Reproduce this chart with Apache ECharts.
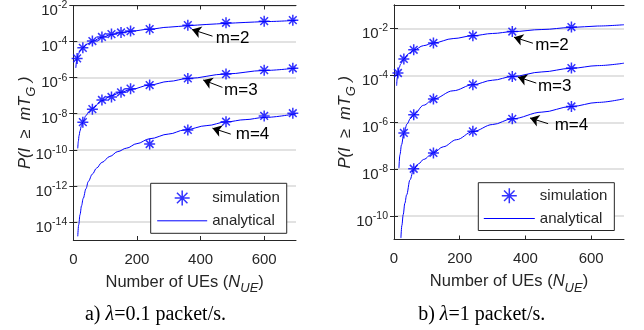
<!DOCTYPE html>
<html><head><meta charset="utf-8">
<script src="https://cdn.jsdelivr.net/npm/echarts@6/dist/echarts.min.js"></script>
<style>html,body{margin:0;padding:0;background:#fff}#c{width:644px;height:330px}</style>
</head><body><div id="c"></div>
<script>
// ---------- tick labels ----------
const xTicks = [0, 200, 400, 600];
const yTicksA = [-14, -12, -10, -8, -6, -4, -2];   // exponents, panel a
const yTicksB = [-10, -8, -6, -4, -2];             // exponents, panel b

// ---------- panel a) lambda = 0.1 packet/s ----------
const simA_N2 = [12, 30, 60, 90, 120, 150, 180, 240, 360, 480, 600, 690];
const simA_P2 = [1.17e-5, 4.5e-5, 1.07e-4, 1.8e-4, 2.6e-4, 3.2e-4, 3.8e-4, 4.9e-4, 8.1e-4, 1.1e-3, 1.35e-3, 1.54e-3];
const simA_N3 = [30, 60, 90, 120, 150, 180, 240, 360, 480, 600, 690];
const simA_P3 = [3.4e-9, 1.8e-8, 5.8e-8, 8.5e-8, 1.55e-7, 2.45e-7, 3.9e-7, 9.1e-7, 1.58e-6, 2.6e-6, 3.3e-6];
const simA_N4 = [240, 360, 480, 600, 690];
const simA_P4 = [2.1e-10, 1.26e-9, 3.6e-9, 7.6e-9, 1.07e-8];

const anA_N2 = [8, 10, 12, 16, 20, 30, 45, 60, 90, 120, 150, 180, 240, 300, 360, 420, 480, 540, 600, 700];
const anA_P2 = [3.5e-6, 7.5e-6, 1.2e-5, 2e-5, 2.8e-5, 4.6e-5, 7.5e-5, 1.05e-4, 1.75e-4, 2.45e-4, 3.1e-4, 3.75e-4, 4.9e-4, 6.3e-4, 7.6e-4, 8.9e-4, 1.02e-3, 1.15e-3, 1.28e-3, 1.5e-3];
const anA_N3 = [14, 16, 18, 21, 25, 30, 40, 50, 60, 90, 120, 150, 180, 240, 300, 360, 480, 600, 700];
const anA_P3 = [1.2e-10, 3e-10, 6e-10, 1.1e-9, 2e-9, 3.5e-9, 8e-9, 1.35e-8, 2e-8, 5.3e-8, 1e-7, 1.55e-7, 2.2e-7, 3.9e-7, 6.2e-7, 9e-7, 1.6e-6, 2.5e-6, 3.4e-6];
const anA_N4 = [14, 17, 21, 26, 31, 40, 47, 60, 73, 90, 115, 140, 167, 200, 240, 300, 350, 420, 480, 540, 600, 700];
const anA_P4 = [1.6e-15, 7e-15, 2.5e-14, 8e-14, 2e-13, 7e-13, 1.75e-12, 4.5e-12, 9.6e-12, 2e-11, 4.3e-11, 8e-11, 1.23e-10, 2.2e-10, 4.1e-10, 7.5e-10, 1.26e-9, 2.2e-9, 3.5e-9, 4.7e-9, 6.2e-9, 1e-8];

// ---------- panel b) lambda = 1 packet/s ----------
const simB_N2 = [12, 30, 60, 120, 240, 360, 540];
const simB_P2 = [1.26e-4, 5e-4, 1.23e-3, 2.4e-3, 4.9e-3, 7.4e-3, 1.15e-2];
const simB_N3 = [30, 60, 120, 240, 360, 540];
const simB_P3 = [3.5e-7, 2.1e-6, 9.8e-6, 4e-5, 8.9e-5, 2.04e-4];
const simB_N4 = [60, 120, 240, 360, 540];
const simB_P4 = [1.04e-8, 4.9e-8, 4.1e-7, 1.4e-6, 4.7e-6];

const anB_N2 = [8, 10, 12, 16, 20, 30, 45, 60, 90, 120, 180, 240, 300, 360, 450, 540, 620, 700];
const anB_P2 = [3.6e-5, 8e-5, 1.26e-4, 2.2e-4, 3e-4, 5e-4, 8.5e-4, 1.2e-3, 1.85e-3, 2.4e-3, 3.7e-3, 4.9e-3, 6.1e-3, 7.3e-3, 9e-3, 1.1e-2, 1.27e-2, 1.44e-2];
const anB_N3 = [15, 18, 23, 30, 40, 50, 60, 90, 120, 180, 240, 300, 360, 450, 540, 620, 700];
const anB_P3 = [1.1e-8, 4.1e-8, 1.1e-7, 3.5e-7, 8.5e-7, 1.45e-6, 2.1e-6, 5.3e-6, 9.8e-6, 2.2e-5, 4e-5, 6.2e-5, 8.9e-5, 1.4e-4, 2e-4, 2.6e-4, 3.3e-4];
const anB_N4 = [21, 24, 28, 33, 38.5, 48.6, 60, 75, 90, 120, 150, 190, 240, 300, 360, 450, 540, 620, 700];
const anB_P4 = [1.15e-11, 4e-11, 1.15e-10, 3.5e-10, 8e-10, 3.5e-9, 1e-8, 1.7e-8, 2.6e-8, 5e-8, 9e-8, 1.8e-7, 4e-7, 8e-7, 1.4e-6, 2.7e-6, 4.7e-6, 7e-6, 1e-5];

// ---------- annotations (N, log10 P): arrow tail, arrow tip, text anchor ----------
const notesA = [
  { t: 'm=2', tail: [437.5, -3.70], tip: [373, -3.33], txt: [448, -3.83] },
  { t: 'm=3', tail: [468.8, -6.54], tip: [408.4, -6.13], txt: [474, -6.68] },
  { t: 'm=4', tail: [495, -9.13], tip: [437.5, -8.80], txt: [510.6, -9.15] }
];
const notesB = [
  { t: 'm=2', tail: [422.8, -2.63], tip: [365, -2.37], txt: [430, -2.72] },
  { t: 'm=3', tail: [433, -4.33], tip: [377, -4.07], txt: [438, -4.46] },
  { t: 'm=4', tail: [469, -6.06], tip: [414, -5.82], txt: [489, -6.15] }
];

// ---------- build ----------
const BLUE = '#0000ff', AX = '#262626', FONT = 'Liberation Sans';
const STAR = 'path://M5 0L5 10M0 5L10 5M1.5 1.5L8.5 8.5M8.5 1.5L1.5 8.5';
const toLog = (N, P) => N.map((n, i) => [n, Math.log10(P[i])]);

const supRich = {
  b: { fontSize: 15, lineHeight: 18, verticalAlign: 'bottom', fontFamily: FONT, color: AX },
  s: { fontSize: 10.5, lineHeight: 26, verticalAlign: 'middle', fontFamily: FONT, color: AX }
};
const nameRich = {
  a: { fontSize: 16.5, lineHeight: 26, fontFamily: FONT, color: AX },
  i: { fontSize: 16.5, lineHeight: 26, fontFamily: FONT, fontStyle: 'italic', color: AX },
  sub: { fontSize: 13, lineHeight: 13, verticalAlign: 'bottom', fontFamily: FONT, fontStyle: 'italic', color: AX }
};

function xAxes(grid) {
  return [
    { gridIndex: grid, type: 'value', min: 0, max: 700, position: 'bottom',
      axisLine: { show: true, lineStyle: { color: AX, width: 1 } },
      axisTick: { show: true, inside: true, length: 4, customValues: xTicks, lineStyle: { color: AX } },
      axisLabel: { show: true, customValues: xTicks, margin: 12, fontSize: 15, fontFamily: FONT, color: AX },
      splitLine: { show: false },
      name: '{a|Number of UEs (}{i|N}{sub|UE}{a|)}', nameLocation: 'middle', nameGap: 29,
      nameMoveOverlap: false,
      nameTextStyle: { rich: nameRich } },
    { gridIndex: grid, type: 'value', min: 0, max: 700, position: 'top',
      axisLine: { show: true, lineStyle: { color: AX, width: 1 } },
      axisTick: { show: true, inside: true, length: 4, customValues: xTicks, lineStyle: { color: AX } },
      axisLabel: { show: false }, splitLine: { show: false } }
  ];
}
function yAxes(grid, min, max, ticks, gap) {
  return [
    { gridIndex: grid, type: 'value', min: min, max: max, position: 'left',
      axisLine: { show: true, lineStyle: { color: AX, width: 1 } },
      axisTick: { show: true, inside: true, length: 4, customValues: ticks, lineStyle: { color: AX } },
      axisLabel: { show: true, customValues: ticks, margin: 6,
        formatter: v => '{b|10}{s|' + v + '}', rich: supRich },
      splitLine: { show: true, lineStyle: { color: '#d9d9d9', width: 1.5 } },
      name: '{i|P(I  ≥  mT}{sub|G}{i| )}', nameLocation: 'middle', nameGap: gap, nameRotate: 90,
      nameMoveOverlap: false,
      nameTextStyle: { rich: nameRich } },
    { gridIndex: grid, type: 'value', min: min, max: max, position: 'right',
      axisLine: { show: true, lineStyle: { color: AX, width: 1 } },
      axisTick: { show: true, inside: true, length: 4, customValues: ticks, lineStyle: { color: AX } },
      axisLabel: { show: false }, splitLine: { show: false } }
  ];
}

function sim(xi, yi, N, P) {
  return { type: 'scatter', name: 'simulation', xAxisIndex: xi, yAxisIndex: yi, data: toLog(N, P),
    symbol: STAR, symbolSize: 11, silent: true, z: 4,
    itemStyle: { color: BLUE, borderColor: BLUE, borderWidth: 1.5 } };
}
function ana(xi, yi, N, P, note) {
  return { type: 'line', name: 'analytical', xAxisIndex: xi, yAxisIndex: yi, data: toLog(N, P),
    showSymbol: false, symbol: 'none', smooth: 0.35, smoothMonotone: 'x', silent: true, z: 3,
    lineStyle: { color: BLUE, width: 1 }, itemStyle: { color: BLUE },
    markLine: { silent: true, symbol: ['none', 'arrow'], symbolSize: 9, animation: false,
      lineStyle: { color: '#000', width: 1, type: 'solid' }, label: { show: false },
      data: [[{ coord: note.tail }, { coord: note.tip }]] },
    markPoint: { silent: true, symbol: 'rect', symbolSize: 0, animation: false,
      label: { show: true, position: 'right', distance: 0, formatter: note.t,
        fontSize: 17, fontFamily: FONT, color: '#000' },
      data: [{ coord: note.txt }] } };
}

const legendBase = {
  orient: 'vertical', backgroundColor: '#fff', borderColor: AX, borderWidth: 1,
  itemHeight: 15, itemGap: 7, selectedMode: false,
  textStyle: { fontSize: 15, lineHeight: 15, fontFamily: FONT, color: AX },
  data: [
    { name: 'simulation', icon: STAR, itemStyle: { color: BLUE, borderColor: BLUE, borderWidth: 1.5 } },
    { name: 'analytical', itemStyle: { opacity: 0 }, lineStyle: { color: BLUE, width: 1 } }
  ]
};

const capRich = {
  r: { fontFamily: 'Liberation Serif', fontSize: 20, fill: '#000' },
  l: { fontFamily: 'Liberation Serif', fontSize: 20, fontStyle: 'italic', fill: '#000' }
};

const option = {
  animation: false,
  backgroundColor: '#fff',
  grid: [
    { left: 73.3, top: 5, width: 222.7, height: 235 },
    { left: 394, top: 5, width: 230, height: 234.5 }
  ],
  xAxis: [...xAxes(0), ...xAxes(1)],
  yAxis: [...yAxes(0, -15, -2, yTicksA, 35), ...yAxes(1, -11, -1, yTicksB, 36)],
  legend: [
    Object.assign({}, legendBase, { left: 150.7, top: 183.3, itemWidth: 50, padding: [6.5, 7, 5, 6] }),
    Object.assign({}, legendBase, { left: 478.3, top: 182.7, itemWidth: 51, padding: [4.8, 7, 4.5, 5] })
  ],
  series: [
    sim(0, 0, simA_N2, simA_P2), sim(0, 0, simA_N3, simA_P3), sim(0, 0, simA_N4, simA_P4),
    ana(0, 0, anA_N2, anA_P2, notesA[0]), ana(0, 0, anA_N3, anA_P3, notesA[1]), ana(0, 0, anA_N4, anA_P4, notesA[2]),
    sim(2, 2, simB_N2, simB_P2), sim(2, 2, simB_N3, simB_P3), sim(2, 2, simB_N4, simB_P4),
    ana(2, 2, anB_N2, anB_P2, notesB[0]), ana(2, 2, anB_N3, anB_P3, notesB[1]), ana(2, 2, anB_N4, anB_P4, notesB[2])
  ],
  graphic: [
    { type: 'text', x: 155.5, y: 315, silent: true,
      style: { text: '{r|a) }{l|λ}{r|=0.1 packet/s.}', rich: capRich, align: 'center', verticalAlign: 'middle' } },
    { type: 'text', x: 481.7, y: 315, silent: true,
      style: { text: '{r|b) }{l|λ}{r|=1 packet/s.}', rich: capRich, align: 'center', verticalAlign: 'middle' } }
  ]
};

const chart = echarts.init(document.getElementById('c'), null, { renderer: 'canvas' });
chart.setOption(option);
</script>
</body></html>
